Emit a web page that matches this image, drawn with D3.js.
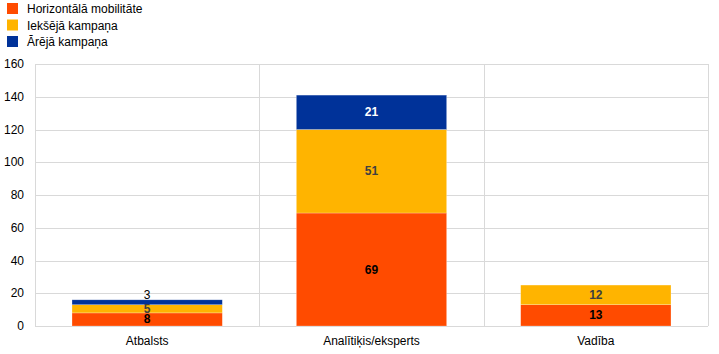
<!DOCTYPE html>
<html>
<head>
<meta charset="utf-8">
<script src="https://cdn.jsdelivr.net/npm/d3@7"></script>
<style>
  body { margin: 0; background: #fff; }
  text { font-family: "Liberation Sans", Arial, sans-serif; }
</style>
</head>
<body>
<svg id="chart" width="719" height="354"></svg>
<script>
const categories = ["Atbalsts", "Analītiķis/eksperts", "Vadība"];
const seriesNames = ["Horizontālā mobilitāte", "Iekšējā kampaņa", "Ārējā kampaņa"];
const horizontal = [8, 69, 13];
const internal = [5, 51, 12];
const external = [3, 21, 0];
const yTicks = [0, 20, 40, 60, 80, 100, 120, 140, 160];

const colors = ["#FF4B00", "#FFB400", "#003299"];
const labelColors = ["#000", "#404040", "#fff"];

const svg = d3.select("#chart");
const margin = { left: 35, right: 11, top: 64, bottom: 28 };
const width = 719, height = 354;

const x = d3.scaleBand()
  .domain(categories)
  .range([margin.left, width - margin.right])
  .paddingInner(0)
  .paddingOuter(0);

const y = d3.scaleLinear()
  .domain([0, 160])
  .range([height - margin.bottom, margin.top]);

// grid
svg.append("g")
  .selectAll("line")
  .data(yTicks)
  .join("line")
  .attr("x1", margin.left)
  .attr("x2", width - margin.right)
  .attr("y1", d => Math.round(y(d)) + 0.5)
  .attr("y2", d => Math.round(y(d)) + 0.5)
  .attr("stroke", "#d9d9d9");

// vertical separators incl. plot edges
const edges = categories.map(c => x(c)).concat([x.range()[1]]);
svg.append("g")
  .selectAll("line")
  .data(edges)
  .join("line")
  .attr("x1", d => Math.round(d) + 0.5)
  .attr("x2", d => Math.round(d) + 0.5)
  .attr("y1", y(160))
  .attr("y2", y(0))
  .attr("stroke", "#d9d9d9");

// y axis labels
svg.append("g")
  .selectAll("text")
  .data(yTicks)
  .join("text")
  .attr("x", 24)
  .attr("y", d => y(d) + 4)
  .attr("text-anchor", "end")
  .attr("font-size", 12)
  .attr("fill", "#000")
  .text(d => d);

// stacks
const rows = categories.map((c, i) => ({
  cat: c,
  s0: horizontal[i], s1: internal[i], s2: external[i]
}));
const stack = d3.stack().keys(["s0", "s1", "s2"])(rows);

const barW = x.bandwidth() * 0.67;
const off = (x.bandwidth() - barW) / 2;

stack.forEach((layer, li) => {
  const g = svg.append("g");
  g.selectAll("rect")
    .data(layer.filter(d => d[1] - d[0] > 0))
    .join("rect")
    .attr("x", d => x(d.data.cat) + off)
    .attr("width", barW)
    .attr("y", d => y(d[1]))
    .attr("height", d => y(d[0]) - y(d[1]))
    .attr("fill", colors[li])
    .attr("stroke", "#fff")
    .attr("stroke-opacity", 0.4)
    .attr("stroke-width", 0.6);
});

// value labels
stack.forEach((layer, li) => {
  svg.append("g")
    .selectAll("text")
    .data(layer.filter(d => d[1] - d[0] > 0))
    .join("text")
    .attr("x", d => x(d.data.cat) + x.bandwidth() / 2)
    .attr("y", d => {
      const h = y(d[0]) - y(d[1]);
      if (h < 8) return y(d[1]) - 1;
      return (y(d[0]) + y(d[1])) / 2 + 4;
    })
    .attr("text-anchor", "middle")
    .attr("font-size", 12)
    .attr("font-weight", d => (y(d[0]) - y(d[1]) < 8 ? "normal" : "bold"))
    .attr("fill", d => (y(d[0]) - y(d[1]) < 8 ? "#000" : labelColors[li]))
    .text(d => d[1] - d[0]);
});

// category labels
svg.append("g")
  .selectAll("text")
  .data(categories)
  .join("text")
  .attr("x", d => x(d) + x.bandwidth() / 2)
  .attr("y", 345)
  .attr("text-anchor", "middle")
  .attr("font-size", 12)
  .attr("fill", "#000")
  .text(d => d);

// legend
const legend = svg.append("g")
  .selectAll("g")
  .data(seriesNames)
  .join("g")
  .attr("transform", (d, i) => `translate(7,${3 + i * 16.5})`);
legend.append("rect")
  .attr("width", 11)
  .attr("height", 11)
  .attr("fill", (d, i) => colors[i]);
legend.append("text")
  .attr("x", 20)
  .attr("y", 10)
  .attr("font-size", 12)
  .attr("fill", "#000")
  .text(d => d);
</script>
</body>
</html>
